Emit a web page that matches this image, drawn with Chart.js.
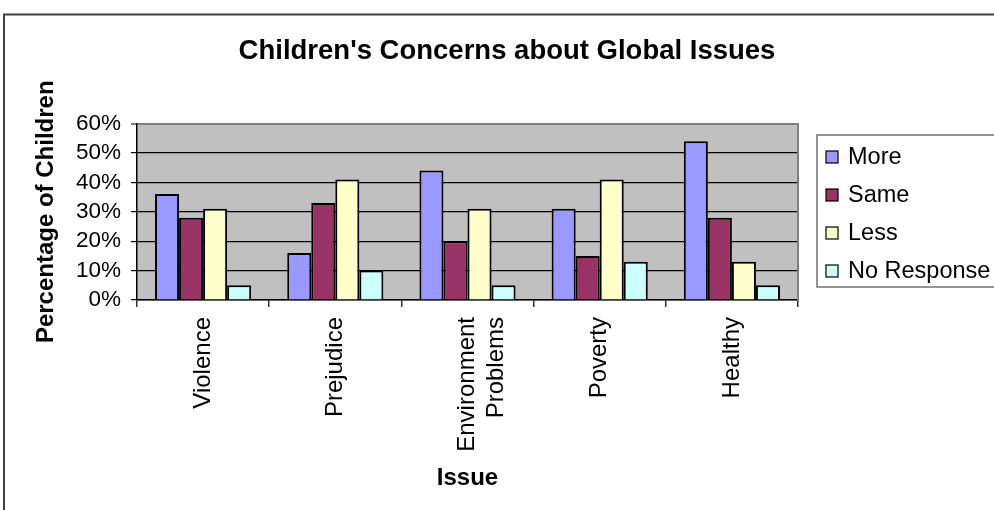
<!DOCTYPE html>
<html>
<head>
<meta charset="utf-8">
<script src="https://cdn.jsdelivr.net/npm/chart.js@4"></script>
<style>
  html, body { margin: 0; padding: 0; background: #ffffff; }
  canvas { display: block; }
</style>
</head>
<body>
<canvas id="c" width="994" height="510"></canvas>
<script>
const categories = ['Violence', 'Prejudice', ['Environment', 'Problems'], 'Poverty', 'Healthy'];
const seriesNames = ['More', 'Same', 'Less', 'No Response'];
const more = [36, 16, 44, 31, 54];
const same = [28, 33, 20, 15, 28];
const less = [31, 41, 31, 41, 13];
const noResponse = [5, 10, 5, 13, 5];
const yTickLabels = ['0%', '10%', '20%', '30%', '40%', '50%', '60%'];
const seriesColors = ['#9999FF', '#993366', '#FFFFCC', '#CCFFFF'];

const FONT = "'Liberation Sans', Arial, sans-serif";

const frameAndBackground = {
  id: 'frameAndBackground',
  beforeDraw(chart) {
    const ctx = chart.ctx, a = chart.chartArea;
    ctx.save();
    ctx.strokeStyle = '#404040';
    ctx.lineWidth = 2;
    ctx.strokeRect(4, 14.5, 1200, 700);
    ctx.fillStyle = '#C0C0C0';
    ctx.fillRect(a.left, a.top, a.right - a.left, a.bottom - a.top);
    ctx.restore();
  }
};

const boxLegend = {
  id: 'boxLegend',
  afterDraw(chart) {
    const ctx = chart.ctx;
    const x0 = 817, y0 = 135, h = 152;
    ctx.save();
    ctx.fillStyle = '#ffffff';
    ctx.fillRect(x0, y0, 300, h);
    ctx.strokeStyle = '#707070';
    ctx.lineWidth = 1.5;
    ctx.strokeRect(x0, y0, 300, h);
    ctx.font = '23.5px ' + FONT;
    ctx.textBaseline = 'middle';
    chart.data.datasets.forEach((ds, i) => {
      const cy = 157 + i * 38;
      ctx.fillStyle = ds.backgroundColor;
      ctx.fillRect(826, cy - 6, 12, 12);
      ctx.strokeStyle = '#000';
      ctx.lineWidth = 1.2;
      ctx.strokeRect(826, cy - 6, 12, 12);
      ctx.fillStyle = '#000';
      ctx.fillText(ds.label, 848, cy + 1);
    });
    ctx.restore();
  }
};

const seriesData = [more, same, less, noResponse];

new Chart(document.getElementById('c'), {
  type: 'bar',
  data: {
    labels: categories,
    datasets: seriesNames.map((name, i) => ({
      label: name,
      data: seriesData[i],
      backgroundColor: seriesColors[i],
      borderColor: '#000000',
      borderWidth: 2,
      categoryPercentage: 4 / 5.5,
      barPercentage: 1.0
    }))
  },
  options: {
    responsive: false,
    animation: false,
    devicePixelRatio: 1,
    layout: { padding: { left: 20, right: 0, top: 0, bottom: 0 } },
    plugins: {
      legend: { display: false },
      tooltip: { enabled: false },
      title: {
        display: true,
        text: "Children's Concerns about Global Issues",
        color: '#000',
        font: { family: FONT, size: 27.5, weight: 'bold' },
        padding: { top: 34.5, bottom: 56 }
      }
    },
    scales: {
      x: {
        type: 'category',
        afterFit(scale) { scale.height = 210; },
        grid: {
          display: true,
          offset: true,
          drawOnChartArea: false,
          drawTicks: true,
          tickLength: 7,
          color: '#333333',
          lineWidth: 1.5
        },
        border: { display: true, color: '#000000', width: 1.5 },
        ticks: {
          minRotation: 90,
          maxRotation: 90,
          autoSkip: false,
          padding: 10,
          color: '#000',
          font: { family: FONT, size: 24 }
        },
        title: {
          display: true,
          text: 'Issue',
          color: '#000',
          font: { family: FONT, size: 24, weight: 'bold' },
          padding: { top: 0, bottom: 17.6 }
        }
      },
      y: {
        min: 0,
        max: 60,
        afterFit(scale) { scale.width = 117; },
        grid: {
          display: true,
          drawOnChartArea: true,
          drawTicks: true,
          tickLength: 6,
          color: (c) => (c.tick && c.tick.value === 60 ? '#808080' : '#000000'),
          lineWidth: (c) => (c.tick && c.tick.value === 60 ? 2 : 1.2)
        },
        border: { display: true, color: '#000000', width: 1.5 },
        ticks: {
          stepSize: 10,
          autoSkip: false,
          maxTicksLimit: 7,
          padding: 10,
          color: '#000',
          font: { family: FONT, size: 22.5, lineHeight: 1.0 },
          callback: (v) => yTickLabels[Math.round(v / 10)]
        },
        title: {
          display: true,
          text: 'Percentage of Children',
          color: '#000',
          font: { family: FONT, size: 24, weight: 'bold' },
          padding: { top: 11.6, bottom: 0 }
        }
      },
      y2: {
        position: 'right',
        min: 0,
        max: 60,
        afterFit(scale) { scale.width = 196; },
        grid: { display: false, drawTicks: false },
        border: { display: true, color: '#808080', width: 2 },
        ticks: { display: false }
      }
    }
  },
  plugins: [frameAndBackground, boxLegend]
});
</script>
</body>
</html>
